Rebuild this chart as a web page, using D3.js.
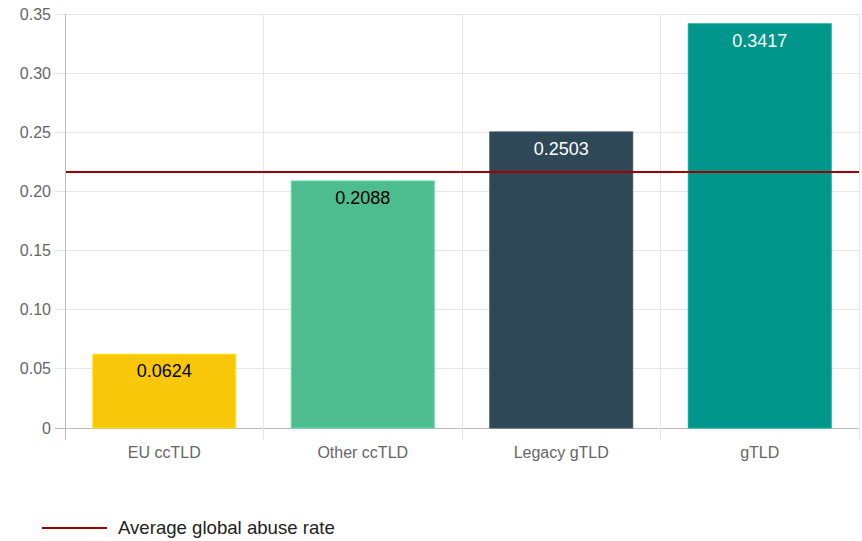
<!DOCTYPE html>
<html><head><meta charset="utf-8">
<script src="https://cdn.jsdelivr.net/npm/d3@7"></script>
<style>body{margin:0;background:#fff;} svg{display:block;font-family:"Liberation Sans",Arial,sans-serif;}</style>
</head><body>
<svg id="c" width="862" height="541"></svg>
<script>
const categories = ["EU ccTLD", "Other ccTLD", "Legacy gTLD", "gTLD"];
const values = [0.0624, 0.2088, 0.2503, 0.3417];
const barColors = ["#f9c70a", "#4dbd8f", "#2f4858", "#00968c"];
const labelColors = ["#000", "#000", "#fff", "#fff"];
const averageRate = 0.2164;
const yTicks = [0, 0.05, 0.10, 0.15, 0.20, 0.25, 0.30, 0.35];
const legendLabel = "Average global abuse rate";

const svg = d3.select("#c");
const L = 65, R = 859, T = 14, B = 428;
const x = d3.scaleBand().domain(categories).range([L, R]).paddingInner(0).paddingOuter(0);
const y = d3.scaleLinear().domain([0, 0.35]).range([B, T]);

// horizontal grid
svg.append("g").selectAll("line").data(yTicks).join("line")
  .attr("x1", L - 10).attr("x2", R).attr("y1", d => y(d)).attr("y2", d => y(d))
  .attr("stroke", d => d === 0 ? "#bbb" : "#e6e6e6").attr("stroke-width", 1).attr("shape-rendering", "crispEdges");
// vertical grid
const bounds = categories.map(c => x(c)).concat([R]);
svg.append("g").selectAll("line").data(bounds).join("line")
  .attr("x1", d => d).attr("x2", d => d).attr("y1", T).attr("y2", B + 12)
  .attr("stroke", (d, i) => i === 0 ? "#bbb" : "#e6e6e6").attr("stroke-width", 1).attr("shape-rendering", "crispEdges");

// y tick labels
svg.append("g").selectAll("text").data(yTicks).join("text")
  .attr("x", 51).attr("y", d => y(d)).attr("dy", "0.35em").attr("text-anchor", "end")
  .attr("fill", "#666").attr("font-size", 16)
  .text(d => d === 0 ? "0" : d3.format(".2f")(d));

// bars
const bw = x.bandwidth() * 0.72;
const off = (x.bandwidth() - bw) / 2;
svg.append("g").selectAll("rect").data(values).join("rect")
  .attr("x", (d, i) => x(categories[i]) + off).attr("width", bw)
  .attr("y", d => y(d)).attr("height", d => B - y(d))
  .attr("fill", (d, i) => barColors[i])
  .attr("stroke", (d, i) => d3.color(barColors[i]).brighter(0.4)).attr("stroke-width", 1);

// bar labels
svg.append("g").selectAll("text").data(values).join("text")
  .attr("x", (d, i) => x(categories[i]) + x.bandwidth() / 2).attr("y", d => y(d) + 23)
  .attr("text-anchor", "middle").attr("font-size", 18)
  .attr("fill", (d, i) => labelColors[i]).text(d => d3.format(".4f")(d));

// x labels
svg.append("g").selectAll("text").data(categories).join("text")
  .attr("x", d => x(d) + x.bandwidth() / 2).attr("y", 458)
  .attr("text-anchor", "middle").attr("font-size", 16).attr("fill", "#666").text(d => d);

// average line
svg.append("line").attr("x1", L + 1).attr("x2", R).attr("y1", y(averageRate)).attr("y2", y(averageRate))
  .attr("stroke", "#a00000").attr("stroke-width", 2);

// legend
svg.append("line").attr("x1", 42).attr("x2", 107).attr("y1", 528).attr("y2", 528)
  .attr("stroke", "#a00000").attr("stroke-width", 2);
svg.append("text").attr("x", 118).attr("y", 534).attr("font-size", 18.6).attr("fill", "#222").text(legendLabel);
</script>
</body></html>
